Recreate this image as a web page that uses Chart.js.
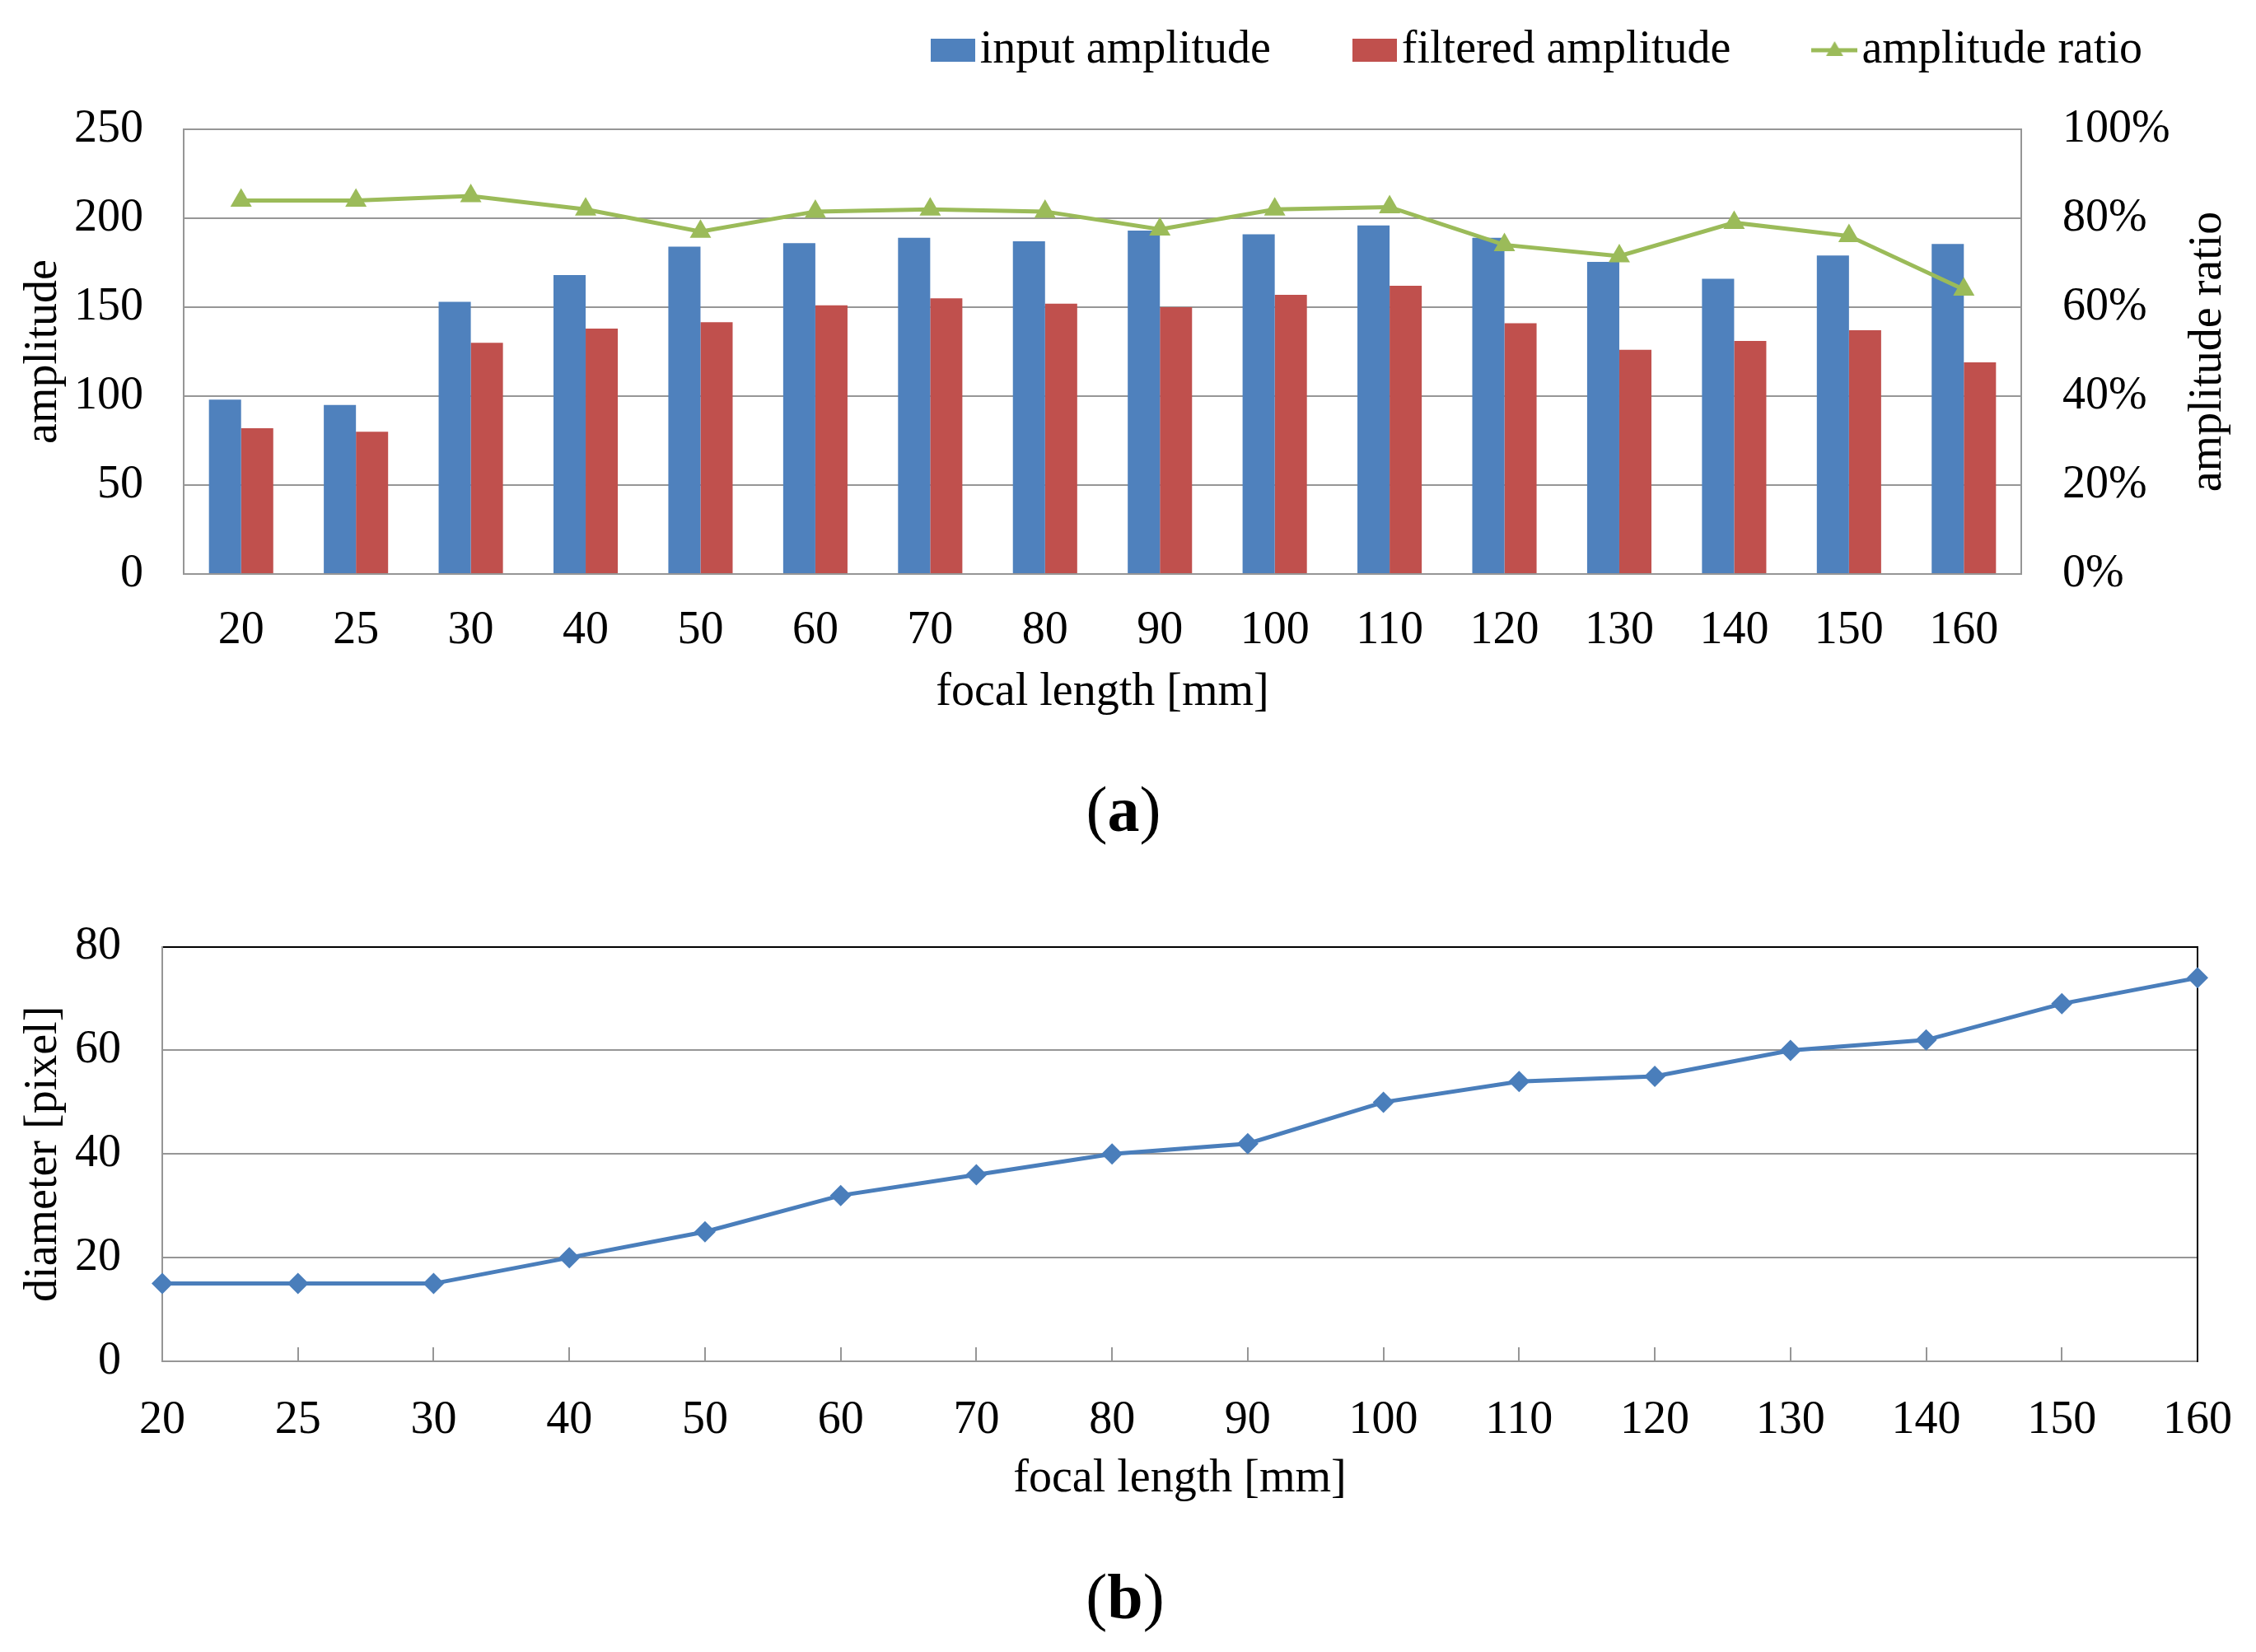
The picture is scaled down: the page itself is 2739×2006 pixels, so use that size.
<!DOCTYPE html>
<html>
<head>
<meta charset="utf-8">
<script src="https://cdn.jsdelivr.net/npm/chart.js@4.4.1/dist/chart.umd.min.js"></script>
<style>
  html, body { margin: 0; padding: 0; background: #ffffff; }
  body { width: 2739px; height: 2006px; position: relative; overflow: hidden; }
  canvas { position: absolute; left: 0; }
  #c1 { top: -88px; }
  #c2 { top: 1066px; }
  .cap { position: absolute; left: 0; text-align: center; font-family: 'Liberation Serif', 'Times New Roman', serif;
         font-size: 78px; line-height: 80px; color: #000; }
  .cap b { font-weight: bold; }
</style>
</head>
<body>
<canvas id="c1" width="2739" height="965" style="width:2739px;height:965px"></canvas>
<canvas id="c2" width="2739" height="767" style="width:2739px;height:767px"></canvas>
<div class="cap" style="top:943px;width:2728px">(<b>a</b>)</div>
<div class="cap" style="top:1899px;width:2732px">(<b>b</b>)</div>
<script>
// ---------- data ----------
const focalLengths = ['20','25','30','40','50','60','70','80','90','100','110','120','130','140','150','160'];
const inputAmplitude    = [98, 95, 153, 168, 184, 186, 189, 187, 193, 191, 196, 189, 175.5, 166, 179, 185.5];
const filteredAmplitude = [82, 80, 130, 138, 141.5, 151, 155, 152, 150, 157, 162, 141, 126, 131, 137, 119];
const amplitudeRatio    = [84, 84, 85, 82, 77, 81.5, 82, 81.5, 77.5, 82, 82.5, 74, 71.5, 79, 76, 64];
const diameterPx        = [15, 15, 15, 20, 25, 32, 36, 40, 42, 50, 54, 55, 60, 62, 69, 74];

const seriesNames = ['input amplitude', 'filtered amplitude', 'amplitude ratio'];
const xTitle = 'focal length [mm]';
const yTitleA = 'amplitude';
const y2TitleA = 'amplitude ratio';
const yTitleB = 'diameter [pixel]';

// ---------- style ----------
const FONT = "'Liberation Serif', 'Times New Roman', serif";
const FS = 56;
const BLUE = '#4F81BD', RED = '#C0504D', GREEN = '#9BBB59', LINEBLUE = '#4A7EBB';
const GRID = '#969696';
const LEGEND_GAP_BELOW = 58;

Chart.defaults.font.family = FONT;
Chart.defaults.font.size = FS;
Chart.defaults.color = '#000000';
Chart.defaults.animation = false;

// legend markers
function rectMarker(color) {
  const c = document.createElement('canvas');
  c.width = 54; c.height = 28;
  const g = c.getContext('2d');
  g.fillStyle = color; g.fillRect(0, 0, 54, 28);
  return c;
}
const lineMarker = document.createElement('canvas');
lineMarker.width = 56; lineMarker.height = 28;
(function () {
  const g = lineMarker.getContext('2d');
  g.strokeStyle = GREEN; g.lineWidth = 5;
  g.beginPath(); g.moveTo(0, 14); g.lineTo(56, 14); g.stroke();
  const r = 12, cx = 28, cy = 15;
  g.fillStyle = GREEN;
  g.beginPath();
  g.moveTo(cx, cy - r);
  g.lineTo(cx - r * Math.sin(Math.PI / 3), cy + r / 2);
  g.lineTo(cx + r * Math.sin(Math.PI / 3), cy + r / 2);
  g.closePath(); g.fill();
})();
const legendMarkers = [rectMarker(BLUE), rectMarker(RED), lineMarker];

// extra room between legend and plot
const legendSpacer = {
  id: 'legendSpacer',
  beforeLayout(chart) {
    const lg = chart.legend;
    if (lg && !lg.__spaced) {
      const orig = lg.fit;
      lg.fit = function () { orig.apply(this, arguments); this.height += LEGEND_GAP_BELOW; };
      lg.__spaced = true;
    }
  }
};

// right-axis title drawn bottom-to-top like the source
const rightTitlePlugin = {
  id: 'rightTitle',
  afterDraw(chart) {
    const ca = chart.chartArea;
    const ctx = chart.ctx;
    ctx.save();
    ctx.translate(chart.width - 58, (ca.top + ca.bottom) / 2);
    ctx.rotate(-Math.PI / 2);
    ctx.font = FS + 'px ' + FONT;
    ctx.fillStyle = '#000';
    ctx.textAlign = 'center';
    ctx.textBaseline = 'middle';
    ctx.fillText(y2TitleA, 0, 0);
    ctx.restore();
  }
};

// ---------- chart (a) ----------
new Chart(document.getElementById('c1'), {
  type: 'bar',
  data: {
    labels: focalLengths,
    datasets: [
      { label: seriesNames[0], data: inputAmplitude, backgroundColor: BLUE, yAxisID: 'y', order: 1,
        categoryPercentage: 0.56, barPercentage: 1.0 },
      { label: seriesNames[1], data: filteredAmplitude, backgroundColor: RED, yAxisID: 'y', order: 1,
        categoryPercentage: 0.56, barPercentage: 1.0 },
      { type: 'line', label: seriesNames[2], data: amplitudeRatio, yAxisID: 'y1', order: 0,
        borderColor: GREEN, backgroundColor: GREEN, borderWidth: 5,
        pointStyle: 'triangle', pointRadius: 15, pointBorderWidth: 0, tension: 0 }
    ]
  },
  options: {
    responsive: false,
    devicePixelRatio: 1,
    layout: { padding: { left: 0, right: 17, top: 0, bottom: 0 } },
    plugins: {
      tooltip: { enabled: false },
      legend: {
        position: 'top',
        align: 'end',
        labels: {
          usePointStyle: true,
          pointStyleWidth: 10,
          boxHeight: 28,
          padding: 121,
          font: { size: FS, family: FONT },
          color: '#000',
          sort: (a, b) => a.datasetIndex - b.datasetIndex,
          generateLabels(chart) {
            const items = Chart.defaults.plugins.legend.labels.generateLabels(chart);
            items.forEach(it => { it.pointStyle = legendMarkers[it.datasetIndex]; it.lineWidth = 0; });
            return items;
          }
        }
      }
    },
    scales: {
      x: {
        offset: true,
        grid: { display: true, drawOnChartArea: false, drawTicks: false },
        border: { display: true, color: GRID, width: 2 },
        ticks: { padding: 36, font: { size: FS }, color: '#000', maxRotation: 0 },
        title: { display: true, text: xTitle, font: { size: FS }, color: '#000', padding: { top: 0, bottom: 2 } },
        afterFit(s) { s.height = 180; }
      },
      y: {
        position: 'left',
        min: 0, max: 250,
        ticks: { stepSize: 50, padding: 49, font: { size: FS }, color: '#000' },
        grid: { color: GRID, lineWidth: 2, drawTicks: false },
        border: { display: true, color: GRID, width: 2 },
        title: { display: true, text: yTitleA, font: { size: FS }, color: '#000', padding: { top: 20, bottom: 0 } },
        afterFit(s) { s.width = 223; }
      },
      y1: {
        position: 'right',
        min: 0, max: 100,
        ticks: { stepSize: 20, padding: 50, font: { size: FS }, color: '#000', callback: v => v + '%' },
        grid: { drawOnChartArea: false, drawTicks: false },
        border: { display: true, color: GRID, width: 2 },
        afterFit(s) { s.width = 268; }
      }
    }
  },
  plugins: [legendSpacer, rightTitlePlugin]
});

// ---------- chart (b) ----------
new Chart(document.getElementById('c2'), {
  type: 'line',
  data: {
    labels: focalLengths,
    datasets: [
      { label: yTitleB, data: diameterPx, borderColor: LINEBLUE, backgroundColor: LINEBLUE, borderWidth: 5,
        pointStyle: 'rectRot', pointRadius: 13, pointBorderWidth: 0, tension: 0, yAxisID: 'y' }
    ]
  },
  options: {
    responsive: false,
    devicePixelRatio: 1,
    layout: { padding: { left: 0, right: 71, top: 0, bottom: 0 } },
    plugins: { legend: { display: false }, tooltip: { enabled: false } },
    scales: {
      x: {
        offset: false,
        grid: { display: true, drawOnChartArea: false, drawTicks: true, tickLength: -17, color: GRID, lineWidth: 2 },
        border: { display: true, color: GRID, width: 2 },
        ticks: { padding: 22, font: { size: FS, lineHeight: 2.4 }, color: '#000', maxRotation: 0, autoSkip: false },
        title: { display: true, text: xTitle, font: { size: FS }, color: '#000', padding: { top: 0, bottom: 3 } },
        afterFit(s) { s.height = 180; }
      },
      y: {
        position: 'left',
        min: 0, max: 80,
        ticks: { stepSize: 20, padding: 50, font: { size: FS }, color: '#000' },
        grid: { color: c => (c.tick && c.tick.value === 80) ? '#000000' : GRID, lineWidth: 2, drawTicks: false },
        border: { display: true, color: GRID, width: 2 },
        title: { display: true, text: yTitleB, font: { size: FS }, color: '#000', padding: { top: 20, bottom: 0 } },
        afterFit(s) { s.width = 197; }
      },
      yr: {
        position: 'right',
        min: 0, max: 80,
        ticks: { display: false },
        grid: { display: false, drawTicks: false },
        border: { display: true, color: '#000000', width: 2 },
        afterFit(s) { s.width = 0; }
      }
    }
  }
});
</script>
</body>
</html>
